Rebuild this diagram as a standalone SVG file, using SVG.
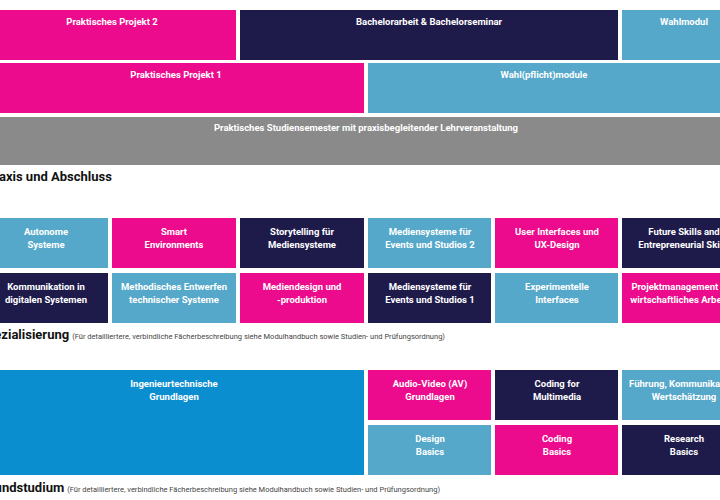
<svg xmlns="http://www.w3.org/2000/svg" width="720" height="500" viewBox="0 0 720 500">
<style>
.p{fill:#ec0b8d}.n{fill:#1e1a4a}.l{fill:#55a8c9}.b{fill:#0b8ecf}.g{fill:#8a8a8a}
text{font-family:Roboto,"Liberation Sans",sans-serif;font-weight:bold;font-size:9.5px;fill:#fff;text-anchor:middle}
.h{font-size:13px;fill:#111;text-anchor:start}
.s{font-size:7.5px;font-weight:normal;fill:#444;text-anchor:start}
</style>
<rect width="720" height="500" fill="#fff"/>
<g id="pp2"><rect class="p" x="-10" y="10" width="246" height="50"/><text x="112" y="25">Praktisches Projekt 2</text></g>
<g id="ba"><rect class="n" x="240" y="10" width="378" height="50"/><text x="429" y="25">Bachelorarbeit &amp; Bachelorseminar</text></g>
<g id="wm"><rect class="l" x="622" y="10" width="110" height="50"/><text x="684" y="25">Wahlmodul</text></g>
<g id="pp1"><rect class="p" x="-10" y="63" width="374" height="50"/><text x="176" y="78">Praktisches Projekt 1</text></g>
<g id="wpm"><rect class="l" x="368" y="63" width="364" height="50"/><text x="544" y="78">Wahl(pflicht)module</text></g>
<g id="pss"><rect class="g" x="-10" y="117" width="742" height="48"/><text x="366" y="131">Praktisches Studiensemester mit praxisbegleitender Lehrveranstaltung</text></g>
<text class="h" x="-14" y="181">Praxis und Abschluss</text>

<g id="as"><rect class="l" x="-16" y="218" width="124" height="50"/><text x="46" y="235">Autonome</text><text x="46" y="248">Systeme</text></g>
<g id="se"><rect class="p" x="112" y="218" width="124" height="50"/><text x="174" y="235">Smart</text><text x="174" y="248">Environments</text></g>
<g id="sm"><rect class="n" x="240" y="218" width="124" height="50"/><text x="302" y="235">Storytelling für</text><text x="302" y="248">Mediensysteme</text></g>
<g id="ms2"><rect class="l" x="368" y="218" width="123" height="50"/><text x="430" y="235">Mediensysteme für</text><text x="430" y="248">Events und Studios 2</text></g>
<g id="ui"><rect class="p" x="495" y="218" width="123" height="50"/><text x="557" y="235">User Interfaces und</text><text x="557" y="248">UX-Design</text></g>
<g id="fs"><rect class="n" x="622" y="218" width="124" height="50"/><text x="684" y="235">Future Skills and</text><text x="684" y="248">Entrepreneurial Skills</text></g>

<g id="kd"><rect class="n" x="-16" y="273" width="124" height="50"/><text x="46" y="290">Kommunikation in</text><text x="46" y="303">digitalen Systemen</text></g>
<g id="me"><rect class="l" x="112" y="273" width="124" height="50"/><text x="174" y="290">Methodisches Entwerfen</text><text x="174" y="303">technischer Systeme</text></g>
<g id="md"><rect class="p" x="240" y="273" width="124" height="50"/><text x="302" y="290">Mediendesign und</text><text x="302" y="303">-produktion</text></g>
<g id="ms1"><rect class="n" x="368" y="273" width="123" height="50"/><text x="430" y="290">Mediensysteme für</text><text x="430" y="303">Events und Studios 1</text></g>
<g id="ei"><rect class="l" x="495" y="273" width="123" height="50"/><text x="557" y="290">Experimentelle</text><text x="557" y="303">Interfaces</text></g>
<g id="pm"><rect class="p" x="622" y="273" width="124" height="50"/><text x="684" y="290">Projektmanagement und</text><text x="684" y="303">wirtschaftliches Arbeiten</text></g>
<text x="-21" y="339"><tspan class="h">Spezialisierung</tspan><tspan class="s" dx="3">(Für detailliertere, verbindliche Fächerbeschreibung siehe Modulhandbuch sowie Studien- und Prüfungsordnung)</tspan></text>

<g id="ig"><rect class="b" x="-10" y="370" width="374" height="105"/><text x="174" y="387">Ingenieurtechnische</text><text x="174" y="400">Grundlagen</text></g>
<g id="av"><rect class="p" x="368" y="370" width="123" height="50"/><text x="430" y="387">Audio-Video (AV)</text><text x="430" y="400">Grundlagen</text></g>
<g id="cm"><rect class="n" x="495" y="370" width="123" height="50"/><text x="557" y="387">Coding for</text><text x="557" y="400">Multimedia</text></g>
<g id="fk"><rect class="l" x="622" y="370" width="124" height="50"/><text x="684" y="387">Führung, Kommunikation,</text><text x="684" y="400">Wertschätzung</text></g>
<g id="db"><rect class="l" x="368" y="425" width="123" height="50"/><text x="430" y="442">Design</text><text x="430" y="455">Basics</text></g>
<g id="cb"><rect class="p" x="495" y="425" width="123" height="50"/><text x="557" y="442">Coding</text><text x="557" y="455">Basics</text></g>
<g id="rb"><rect class="n" x="622" y="425" width="124" height="50"/><text x="684" y="442">Research</text><text x="684" y="455">Basics</text></g>
<text x="-19" y="492"><tspan class="h">Grundstudium</tspan><tspan class="s" dx="3">(Für detailliertere, verbindliche Fächerbeschreibung siehe Modulhandbuch sowie Studien- und Prüfungsordnung)</tspan></text>
<g id="connectors"/>
</svg>
